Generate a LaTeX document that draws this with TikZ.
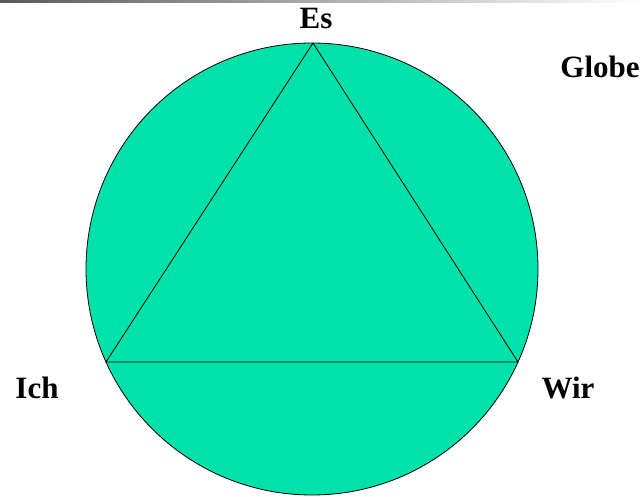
\documentclass[tikz,border=0pt]{standalone}
\usepackage{fontspec}
\setmainfont{Liberation Serif}
\definecolor{globegreen}{RGB}{0,226,170}
\begin{document}
\begin{tikzpicture}[x=1pt,y=-1pt,
  lbl/.style={anchor=base,font=\fontsize{31}{34}\selectfont\bfseries,inner sep=0pt}]
\useasboundingbox (0,0) rectangle (643,497);
\shade[left color=black!65,right color=white] (0,0) rectangle (643,3);
\coordinate (c) at (312,269);
\draw[fill=globegreen,line width=0.8pt] (c) circle[radius=226];
\coordinate (top) at (313,43);
\coordinate (lv) at (106,362);
\coordinate (rv) at (518,362);
\draw[line width=0.8pt] (lv) -- (top) -- (rv) -- cycle;
\node[lbl] (es) at (316,29) {Es};
\node[lbl] (globe) at (600,78) {Globe};
\node[lbl] (ich) at (37,398) {Ich};
\node[lbl] (wir) at (568,398) {Wir};
\end{tikzpicture}
\end{document}
